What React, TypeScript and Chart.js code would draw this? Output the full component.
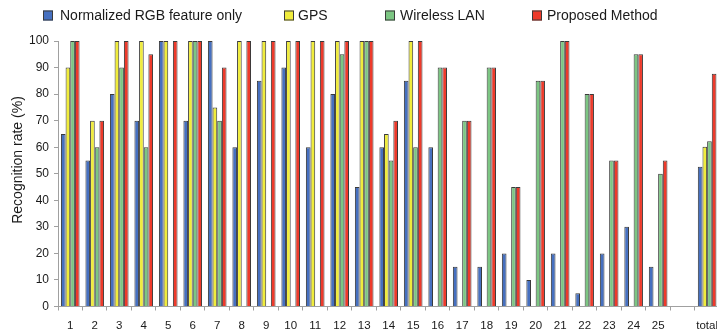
import React, { useEffect, useRef } from 'react';
import { Chart, registerables } from 'chart.js';

Chart.register(...registerables);

const categories = ['1', '2', '3', '4', '5', '6', '7', '8', '9', '10', '11', '12', '13', '14', '15', '16', '17', '18', '19', '20', '21', '22', '23', '24', '25', '', 'total'];
const rgbOnly = [65, 55, 80, 70, 100, 70, 100, 60, 85, 90, 60, 80, 45, 60, 85, 60, 15, 15, 20, 10, 20, 5, 20, 30, 15, null, 52.6];
const gps = [90, 70, 100, 100, 100, 100, 75, 100, 100, 100, 100, 100, 100, 65, 100, 0, 0, 0, 0, 0, 0, 0, 0, 0, 0, null, 60.2];
const wlan = [100, 60, 90, 60, 0, 100, 70, 0, 0, 0, 0, 95, 100, 55, 60, 90, 70, 90, 45, 85, 100, 80, 55, 95, 50, null, 62.2];
const proposed = [100, 70, 100, 95, 100, 100, 90, 100, 100, 100, 100, 100, 100, 70, 100, 90, 70, 90, 45, 85, 100, 80, 55, 95, 55, null, 87.7];
const seriesNames = ['Normalized RGB feature only', 'GPS', 'Wireless LAN', 'Proposed Method'];
const yTitle = 'Recognition rate (%)';

const FONT = '"Liberation Sans", Arial, Helvetica, sans-serif';
const colors = ['#4670c0', '#f0ec3c', '#7cc683', '#ee3a2b'];
const legendBoxX = [43, 284, 385, 532];
const legendTextX = [60, 298, 400, 547];

const legendPlugin = {
  id: 'customLegend',
  afterDraw(chart: any) {
    const ctx = chart.ctx;
    ctx.save();
    ctx.font = `14px ${FONT}`;
    ctx.textBaseline = 'middle';
    ctx.textAlign = 'left';
    chart.data.datasets.forEach((ds: any, i: number) => {
      const y = 15.5;
      const x = legendBoxX[i];
      ctx.fillStyle = ds.backgroundColor;
      ctx.fillRect(x, y - 5, 10, 10);
      ctx.strokeStyle = '#3a3a3a';
      ctx.lineWidth = 1;
      ctx.strokeRect(x + 0.5, y - 4.5, 9, 9);
      ctx.fillStyle = '#1a1a1a';
      ctx.fillText(ds.label, legendTextX[i], y + 0.5);
    });
    ctx.restore();
  },
};

const yTitlePlugin = {
  id: 'yTitle',
  afterDraw(chart: any) {
    const ctx = chart.ctx;
    ctx.save();
    ctx.translate(18, 160);
    ctx.rotate(-Math.PI / 2);
    ctx.font = `14px ${FONT}`;
    ctx.textAlign = 'center';
    ctx.textBaseline = 'middle';
    ctx.fillStyle = '#1a1a1a';
    ctx.fillText(yTitle, 0, 0);
    ctx.restore();
  },
};

export default function App() {
  const ref = useRef<HTMLCanvasElement | null>(null);

  useEffect(() => {
    if (!ref.current) return;
    const series = [rgbOnly, gps, wlan, proposed];
    const chart = new Chart(ref.current, {
      type: 'bar',
      data: {
        labels: categories,
        datasets: series.map((d, i) => ({
          label: seriesNames[i],
          data: d,
          backgroundColor: colors[i],
          borderColor: '#3a3a3a',
          borderWidth: 1,
          borderSkipped: 'bottom',
          categoryPercentage: 0.76,
          barPercentage: 1,
        })),
      },
      options: {
        responsive: false,
        animation: false,
        devicePixelRatio: 1,
        layout: { padding: { top: 41, left: 0, right: 0, bottom: 0 } },
        plugins: {
          legend: { display: false },
          tooltip: { enabled: false },
          title: { display: false },
        },
        scales: {
          x: {
            offset: true,
            grid: { display: true, offset: true, drawOnChartArea: false, drawTicks: true, tickLength: 4, color: '#a0a0a0' },
            border: { display: true, color: '#a0a0a0' },
            ticks: { font: { size: 11.5, family: FONT }, color: '#1a1a1a', padding: 8, maxRotation: 0, autoSkip: false },
            afterFit: (s: any) => { s.height = 28.5; },
          },
          y: {
            min: 0,
            max: 100,
            ticks: { stepSize: 10, font: { size: 12, family: FONT }, color: '#1a1a1a', padding: 5 },
            grid: { display: true, drawOnChartArea: false, drawTicks: true, tickLength: 4, color: '#a0a0a0' },
            border: { display: true, color: '#a0a0a0' },
            afterFit: (s: any) => { s.width = 58; },
          },
        },
      },
      plugins: [legendPlugin, yTitlePlugin],
    });
    return () => chart.destroy();
  }, []);

  return (
    <div style={{ position: 'absolute', left: 0, top: 0, width: 717, height: 335, overflow: 'hidden', background: '#fff' }}>
      <canvas ref={ref} width={726} height={335} style={{ display: 'block', width: 726, height: 335 }} />
    </div>
  );
}
